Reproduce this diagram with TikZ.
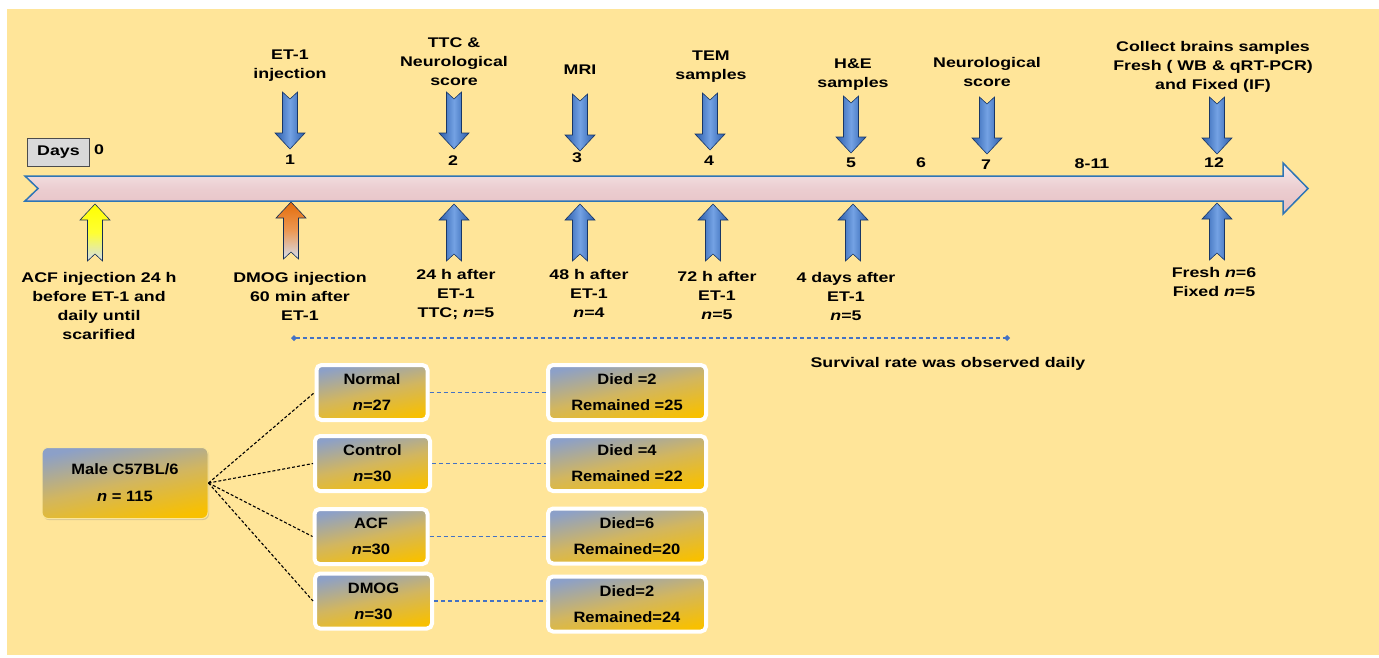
\documentclass[tikz,border=0pt]{standalone}
\usepackage{fontspec}
\setmainfont{Liberation Sans}[FakeStretch=1.27]
\newfontfamily\boxfont{Liberation Sans}[FakeStretch=1.1]
\usetikzlibrary{arrows.meta,positioning,shadows}
\definecolor{panel}{HTML}{FFE599}
\definecolor{tlblue}{HTML}{2E75B6}
\definecolor{tlpink}{HTML}{E3B8BC}
\definecolor{arrowdark}{HTML}{2A5CAA}
\definecolor{arrowlight}{HTML}{74A2E4}
\definecolor{boxblue}{RGB}{140,160,200}
\definecolor{boxmid}{RGB}{210,182,95}
\definecolor{boxgold}{RGB}{248,192,0}
\definecolor{daygray}{HTML}{D9D9D9}
\definecolor{dashblue}{HTML}{4472C4}
\definecolor{orng}{HTML}{E46C0A}

\begin{document}
\begin{tikzpicture}[x=1pt,y=-1pt,
    lbl/.style={font=\fontsize{14}{19}\selectfont\bfseries, align=center, inner sep=0pt},
    daynum/.style={font=\fontsize{14}{19}\selectfont\bfseries, inner sep=0pt},
    gold/.style={top color=boxblue, bottom color=boxgold, middle color=boxmid, shading angle=12,
      font=\boxfont\fontsize{15}{26}\selectfont\bfseries, align=center, inner sep=0pt},
    grp/.style={gold, draw=white, line width=4pt, rounded corners=5pt,
      drop shadow={opacity=0.25, shadow xshift=0.6pt, shadow yshift=-1.2pt},
      minimum height=55pt},
    res/.style={grp, minimum width=158pt},
    mouse/.style={gold, draw=white!60!boxgold, line width=1pt, rounded corners=6pt,
      drop shadow={opacity=0.3, shadow xshift=1pt, shadow yshift=-1.5pt},
      minimum width=166pt, minimum height=71pt, font=\boxfont\fontsize{15}{27}\selectfont\bfseries},
    daybox/.style={draw=black!70, fill=daygray, line width=0.8pt, minimum width=62pt,
      minimum height=28pt, inner sep=0pt, font=\fontsize{14}{19}\selectfont\bfseries},
    bluearrow/.style={draw=arrowdark!60!black, line width=0.6pt,
      left color=arrowdark, right color=arrowdark, middle color=arrowlight},
    yellowarrow/.style={draw=arrowdark!50!black, line width=0.6pt,
      top color=yellow, bottom color=white!80!arrowdark, middle color=yellow!80!white},
    orangearrow/.style={draw=arrowdark!50!black, line width=0.6pt,
      top color=orng, bottom color=white!80!arrowdark, middle color=orng!70!white},
    blockarrow/.pic={\path[#1] (0,0) -- (15,-16) -- (7.5,-16) -- (7.5,-57) -- (0,-50)
      -- (-7.5,-57) -- (-7.5,-16) -- (-15,-16) -- cycle;},
    survline/.style={dashblue, line width=1.6pt, dash pattern=on 4pt off 3pt},
    groupline/.style={black, line width=1.1pt, dash pattern=on 3pt off 2pt}
  ]
  \useasboundingbox (0,0) rectangle (1379,657);
  \fill[panel] (7,9) rectangle (1379,655);

  \path[draw=tlblue, line width=1.5pt, top color=white!70!tlpink, bottom color=tlpink!90!white,
    middle color=tlpink!70!white] (25,176) -- (1283,176) -- (1283,163) -- (1308,188.5)
    -- (1283,214) -- (1283,201) -- (25,201) -- (38,188.5) -- cycle;

  \node[daybox] (days) at (58.5,152.5) {Days};
  \node[daynum] (d0) at (99,150) {0};
  \node[daynum] (d1) at (290,160) {1};
  \node[daynum] (d2) at (453,161) {2};
  \node[daynum] (d3) at (577,158) {3};
  \node[daynum] (d4) at (709,161) {4};
  \node[daynum] (d5) at (851,163) {5};
  \node[daynum] (d6) at (921,163) {6};
  \node[daynum] (d7) at (986,165) {7};
  \node[daynum] (d8) at (1092,164) {8-11};
  \node[daynum] (d12) at (1214,163) {12};

  \node[lbl] (et1lbl) at (290,66) {ET-1\\injection};
  \node[lbl] (ttclbl) at (454,62) {TTC \&\\Neurological\\score};
  \node[lbl] (mrilbl) at (580,70) {MRI};
  \node[lbl] (temlbl) at (711,67) {TEM\\samples};
  \node[lbl] (helbl) at (853,75) {H\&E\\samples};
  \node[lbl] (neurolbl) at (987,72) {Neurological\\score};
  \node[lbl] (collectlbl) at (1213,67) {Collect brains samples\\Fresh ( WB \& qRT-PCR)\\and Fixed (IF)};

  \pic at (290,149) {blockarrow=bluearrow};
  \pic at (454,149) {blockarrow=bluearrow};
  \pic at (580,151) {blockarrow=bluearrow};
  \pic at (710,150) {blockarrow=bluearrow};
  \pic at (851,153) {blockarrow=bluearrow};
  \pic at (987,154) {blockarrow=bluearrow};
  \pic at (1217,154) {blockarrow=bluearrow};

  \pic[rotate=180] at (95,204) {blockarrow=yellowarrow};
  \pic[rotate=180] at (291,202) {blockarrow=orangearrow};
  \pic[rotate=180] at (454,204) {blockarrow=bluearrow};
  \pic[rotate=180] at (580,204) {blockarrow=bluearrow};
  \pic[rotate=180] at (713,204) {blockarrow=bluearrow};
  \pic[rotate=180] at (853,204) {blockarrow=bluearrow};
  \pic[rotate=180] at (1217,203) {blockarrow=bluearrow};

  \node[lbl] (acflbl) at (99,305.5) {ACF injection 24 h\\before ET-1 and\\daily until\\scarified};
  \node[lbl] (dmoglbl) at (300,296) {DMOG injection\\60 min after\\ET-1};
  \node[lbl] (h24lbl) at (456,295) {24 h after\\ET-1\\TTC; \textit{n}=5};
  \node[lbl] (h48lbl) at (589,293) {48 h after\\ET-1\\\textit{n}=4};
  \node[lbl] (h72lbl) at (717,295) {72 h after\\ET-1\\\textit{n}=5};
  \node[lbl] (d4lbl) at (846,296) {4 days after\\ET-1\\\textit{n}=5};
  \node[lbl] (freshlbl) at (1214,281.5) {Fresh \textit{n}=6\\Fixed \textit{n}=5};

  \coordinate (svstart) at (291,338);
  \coordinate (svend) at (1010,338);
  \draw[survline, {Diamond[length=6pt,width=6pt]}-{Diamond[length=6pt,width=6pt]}] (svstart) -- (svend);
  \node[lbl] (survlbl) at (948,364) {Survival rate was observed daily};

  \node[mouse] (male) at (125,483) {Male C57BL/6\\\textit{n} = 115};
  \node[grp, minimum width=111pt] (normal) at (372,392.5) {Normal\\\textit{n}=27};
  \node[grp, minimum width=115pt] (control) at (372.5,463.5) {Control\\\textit{n}=30};
  \node[grp, minimum width=113pt] (acf) at (371,536.5) {ACF\\\textit{n}=30};
  \node[grp, minimum width=117pt] (dmog) at (373.5,601) {DMOG\\\textit{n}=30};
  \node[res] (out1) at (627,392.5) {Died =2\\Remained =25};
  \node[res] (out2) at (627,463.5) {Died =4\\Remained =22};
  \node[res] (out3) at (627,536) {Died=6\\Remained=20};
  \node[res] (out4) at (627,604) {Died=2\\Remained=24};

  \draw[groupline] (male.east) -- (normal.west);
  \draw[groupline] (male.east) -- (control.west);
  \draw[groupline] (male.east) -- (acf.west);
  \draw[groupline] (male.east) -- (dmog.west);
  \draw[survline] (normal.east) -- (normal.east -| out1.west);
  \draw[survline] (control.east) -- (control.east -| out2.west);
  \draw[survline] (acf.east) -- (acf.east -| out3.west);
  \draw[survline] (dmog.east) -- (dmog.east -| out4.west);
\end{tikzpicture}
\end{document}
